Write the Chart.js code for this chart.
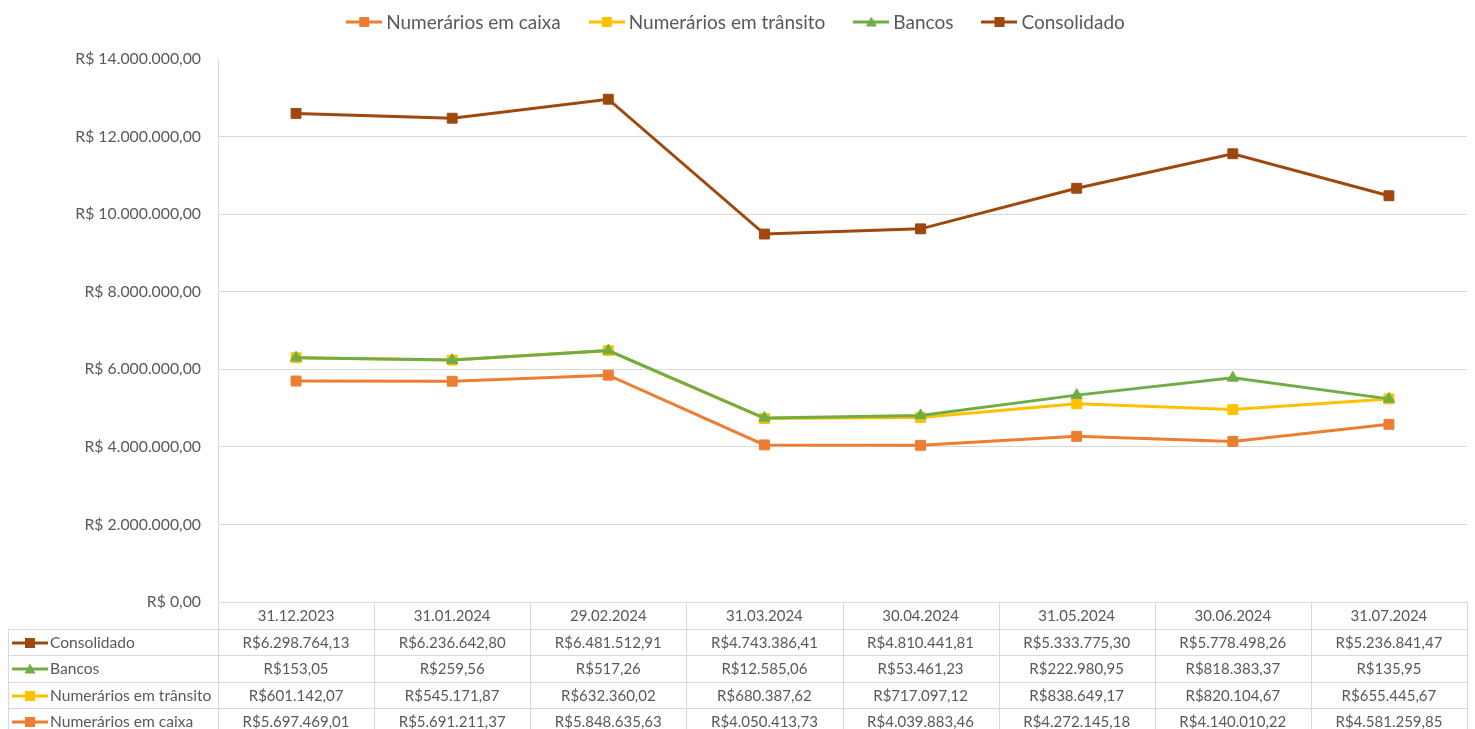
<!DOCTYPE html>
<html>
<head>
<meta charset="utf-8">
<script src="https://cdn.jsdelivr.net/npm/chart.js@4/dist/chart.umd.min.js"></script>
<style>
  html, body { margin: 0; padding: 0; background: #fff; }
  #c { display: block; }
</style>
</head>
<body>
<canvas id="c" width="1475" height="729"></canvas>
<script>
'use strict';

// ── Data ──────────────────────────────────────────────────────
const DATES = ['31.12.2023', '31.01.2024', '29.02.2024', '31.03.2024',
               '30.04.2024', '31.05.2024', '30.06.2024', '31.07.2024'];

const CAIXA       = [5697469.01, 5691211.37, 5848635.63, 4050413.73, 4039883.46, 4272145.18, 4140010.22, 4581259.85];
const TRANSITO    = [601142.07, 545171.87, 632360.02, 680387.62, 717097.12, 838649.17, 820104.67, 655445.67];
const BANCOS      = [153.05, 259.56, 517.26, 12585.06, 53461.23, 222980.95, 818383.37, 135.95];
const CONSOLIDADO = [6298764.13, 6236642.80, 6481512.91, 4743386.41, 4810441.81, 5333775.30, 5778498.26, 5236841.47];

const Y_MAX = 14000000;
const Y_STEP = 2000000;

// ── Style ─────────────────────────────────────────────────────
const FONT = 'Lato, "Noto Sans", sans-serif';
const TXT = '#595959';
const GRID = '#D9D9D9';

const SERIES = [
  { label: 'Numerários em caixa',    data: CAIXA,       color: '#ED7D31', style: 'rect' },
  { label: 'Numerários em trânsito', data: TRANSITO,    color: '#FFC000', style: 'rect' },
  { label: 'Bancos',                 data: BANCOS,      color: '#70AD47', style: 'triangle' },
  { label: 'Consolidado',            data: CONSOLIDADO, color: '#9E480E', style: 'rect' },
];

// ── Helpers ───────────────────────────────────────────────────
function fmt(v) {
  const [i, d] = v.toFixed(2).split('.');
  return i.replace(/\B(?=(\d{3})+(?!\d))/g, '.') + ',' + d;
}

// little "line + marker" key, like Excel legends
function makeKey(color, style) {
  const cv = document.createElement('canvas');
  cv.width = 36; cv.height = 14;
  const g = cv.getContext('2d');
  g.strokeStyle = color; g.fillStyle = color; g.lineWidth = 3;
  g.beginPath(); g.moveTo(0, 7); g.lineTo(36, 7); g.stroke();
  if (style === 'triangle') {
    g.beginPath(); g.moveTo(18, 1.5); g.lineTo(23.5, 11.5); g.lineTo(12.5, 11.5); g.closePath(); g.fill();
  } else {
    g.fillRect(13, 2, 10, 10);
  }
  return cv;
}
SERIES.forEach(s => { s.key = makeKey(s.color, s.style); });

// ── Plugin: Excel-ish legend + data table ─────────────────────
const excelBits = {
  id: 'excelBits',
  // draw series in index order so later ones sit on top (like Excel)
  beforeDatasetDraw() { return false; },
  afterDatasetsDraw(chart) {
    for (let i = 0; i < chart.data.datasets.length; i++) {
      const meta = chart.getDatasetMeta(i);
      if (!meta.hidden) meta.controller.draw();
    }
  },
  afterDraw(chart) {
    const { ctx, chartArea: a } = chart;
    const x = chart.scales.x;
    ctx.save();

    // legend
    ctx.font = `19px ${FONT}`;
    ctx.textBaseline = 'middle';
    ctx.textAlign = 'left';
    const gapKey = 4, gapItem = 28;
    const widths = SERIES.map(s => 36 + gapKey + ctx.measureText(s.label).width);
    const total = widths.reduce((p, c) => p + c, 0) + gapItem * (SERIES.length - 1);
    let lx = (chart.width - total) / 2 - 2;
    SERIES.forEach((s, i) => {
      ctx.drawImage(s.key, lx, 22 - 7);
      ctx.fillStyle = TXT;
      ctx.fillText(s.label, lx + 36 + gapKey, 22.5);
      lx += widths[i] + gapItem;
    });

    // data table
    const rowH = 26.5;
    const top = a.bottom;
    const rows = SERIES.slice().reverse();
    const bottom = top + rowH * (rows.length + 1);
    const n = DATES.length;
    const colW = (a.right - a.left) / n;
    const tableLeft = 8;

    ctx.strokeStyle = GRID;
    ctx.lineWidth = 1;
    ctx.beginPath();
    // horizontal lines
    ctx.moveTo(a.left, top + 0.5); ctx.lineTo(a.right, top + 0.5);
    for (let r = 1; r <= rows.length + 1; r++) {
      const y = Math.round(top + r * rowH) + 0.5;
      ctx.moveTo(tableLeft, y); ctx.lineTo(a.right, y);
    }
    // vertical lines
    for (let c = 0; c <= n; c++) {
      const vx = Math.round(a.left + c * colW) + 0.5;
      ctx.moveTo(vx, top); ctx.lineTo(vx, bottom);
    }
    ctx.moveTo(tableLeft + 0.5, top + rowH); ctx.lineTo(tableLeft + 0.5, bottom);
    ctx.stroke();

    ctx.font = `15px ${FONT}`;
    ctx.fillStyle = TXT;
    ctx.textAlign = 'center';
    DATES.forEach((d, i) => {
      ctx.fillText(d, x.getPixelForValue(i), top + rowH / 2 + 1);
    });
    rows.forEach((s, r) => {
      const cy = top + rowH * (r + 1) + rowH / 2 + 1;
      ctx.drawImage(s.key, 12, Math.round(cy - 7));
      ctx.textAlign = 'left';
      ctx.font = `15.6px ${FONT}`;
      ctx.fillText(s.label, 50, cy);
      ctx.textAlign = 'center';
      ctx.font = `15px ${FONT}`;
      s.data.forEach((v, i) => {
        ctx.fillText('R$' + fmt(v), x.getPixelForValue(i), cy);
      });
    });
    ctx.restore();
  }
};

// ── Chart ─────────────────────────────────────────────────────
new Chart(document.getElementById('c'), {
  type: 'line',
  data: {
    labels: DATES,
    datasets: SERIES.map(s => ({
      label: s.label,
      data: s.data,
      borderColor: s.color,
      backgroundColor: s.color,
      borderWidth: 3,
      pointStyle: s.style,
      pointRadius: s.style === 'triangle' ? 6.5 : 7,
      pointBorderWidth: 1,
      pointBorderColor: s.color,
      pointBackgroundColor: s.color,
      tension: 0,
      fill: false,
    })),
  },
  options: {
    responsive: false,
    animation: false,
    layout: { padding: { top: 59, right: 4, bottom: 127, left: 0 } },
    plugins: {
      legend: { display: false },
      tooltip: { enabled: false },
    },
    scales: {
      x: {
        display: false,
        offset: true,
      },
      y: {
        stacked: true,
        min: 0,
        max: Y_MAX,
        afterFit: (scale) => { scale.width = 218; },
        ticks: {
          stepSize: Y_STEP,
          padding: 17,
          color: TXT,
          font: { family: FONT, size: 15.8 },
          callback: (v) => 'R$ ' + fmt(v),
        },
        grid: {
          drawTicks: false,
          color: (c) => (c.tick && c.tick.value === Y_MAX ? 'rgba(0,0,0,0)' : GRID),
        },
        border: { display: true, color: GRID },
      },
    },
  },
  plugins: [excelBits],
});
</script>
</body>
</html>
